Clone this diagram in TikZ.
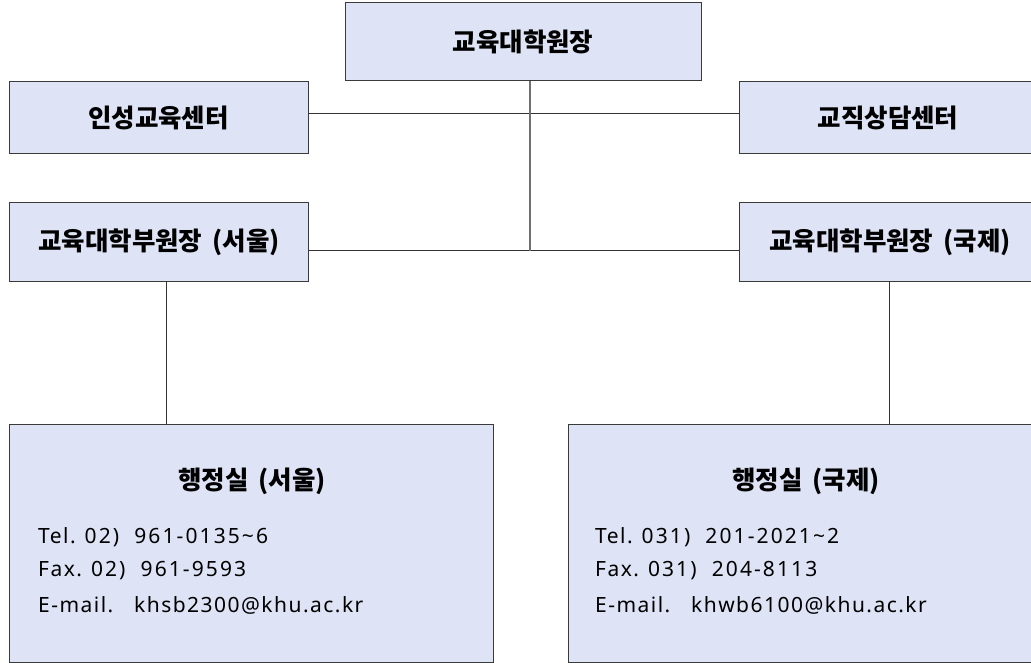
\documentclass[tikz,border=0pt]{standalone}
\usepackage{fontspec}
\newfontfamily\kr{Noto Sans CJK KR}
\newfontfamily\lat[LetterSpace=7]{Noto Sans}
\newfontfamily\latnum[LetterSpace=10]{Noto Sans}
\definecolor{boxfill}{HTML}{DEE4F5}
\definecolor{boxline}{HTML}{3A3A3A}
\definecolor{conn}{HTML}{333333}
\definecolor{connv}{HTML}{707070}
\tikzset{
  orgbox/.style={draw=boxline, line width=1pt, fill=boxfill},
  title/.style={font=\kr\bfseries\fontsize{25.5}{30}\selectfont, text=black, inner sep=0pt},
  body/.style={font=\lat\fontsize{21}{25}\selectfont, text=black, anchor=base west, inner sep=0pt},
  link/.style={draw=conn, line width=1pt},
  linkv/.style={draw=connv, line width=1.8pt}
}
\newcommand{\numtxt}[1]{{\latnum #1}}
\begin{document}
\begin{tikzpicture}[x=1pt,y=-1pt]
\useasboundingbox (0,0) rectangle (1031,663);
\clip (0,0) rectangle (1031,663);
\coordinate (j2) at (530,251);
% boxes
\draw[orgbox] (345,3) rectangle (701,81);
\node[title] (dean) at (523,42) {교육대학원장};
\draw[orgbox] (9,82) rectangle (308,154);
\node[title] (insung) at (158.5,118) {인성교육센터};
\draw[orgbox] (739,82) rectangle (1040,154);
\node[title] (gyojik) at (888,118) {교직상담센터};
\draw[orgbox] (9,203) rectangle (308,281);
\node[title] (vds) at (159,242) {교육대학부원장\ \,(서울)};
\draw[orgbox] (739,203) rectangle (1040,281);
\node[title] (vdi) at (890,242) {교육대학부원장\ \,(국제)};
\draw[orgbox] (9,424) rectangle (493,662);
\node[title] (offs) at (252,481) {행정실\ \,(서울)};
\node[body] (tels) at (38,543) {Tel.\hspace{9pt}\numtxt{02)\ \ 961-0135\char"7E 6}};
\node[body] (faxs) at (38,576) {Fax.\hspace{9pt}\numtxt{02)\ \ 961-9593}};
\node[body] (mails) at (38,612) {E-mail.\ \ \ khsb2300@khu.ac.kr};
\draw[orgbox] (568,424) rectangle (1045,662);
\node[title] (offi) at (806,481) {행정실\ \,(국제)};
\node[body] (teli) at (595,543) {Tel.\hspace{9pt}\numtxt{031)\ \ 201-2021\char"7E 2}};
\node[body] (faxi) at (595,576) {Fax.\hspace{9pt}\numtxt{031)\ \ 204-8113}};
\node[body] (maili) at (595,612) {E-mail.\ \ \ khwb6100@khu.ac.kr};
% edge points
\coordinate (deanB) at (530,81);
\coordinate (insR) at (308,114);
\coordinate (gyoL) at (739,114);
\coordinate (vdsR) at (308,251);
\coordinate (vdiL) at (739,251);
\coordinate (vdsB) at (166,281);
\coordinate (offsT) at (166,424);
\coordinate (vdiB) at (889,281);
\coordinate (offiT) at (889,424);
\draw[link] (insR) -- (gyoL);
\draw[link] (vdsR) -- (vdiL);
\draw[linkv] (deanB) -- (j2);
\draw[link] (vdsB) -- (offsT);
\draw[link] (vdiB) -- (offiT);
\end{tikzpicture}
\end{document}
